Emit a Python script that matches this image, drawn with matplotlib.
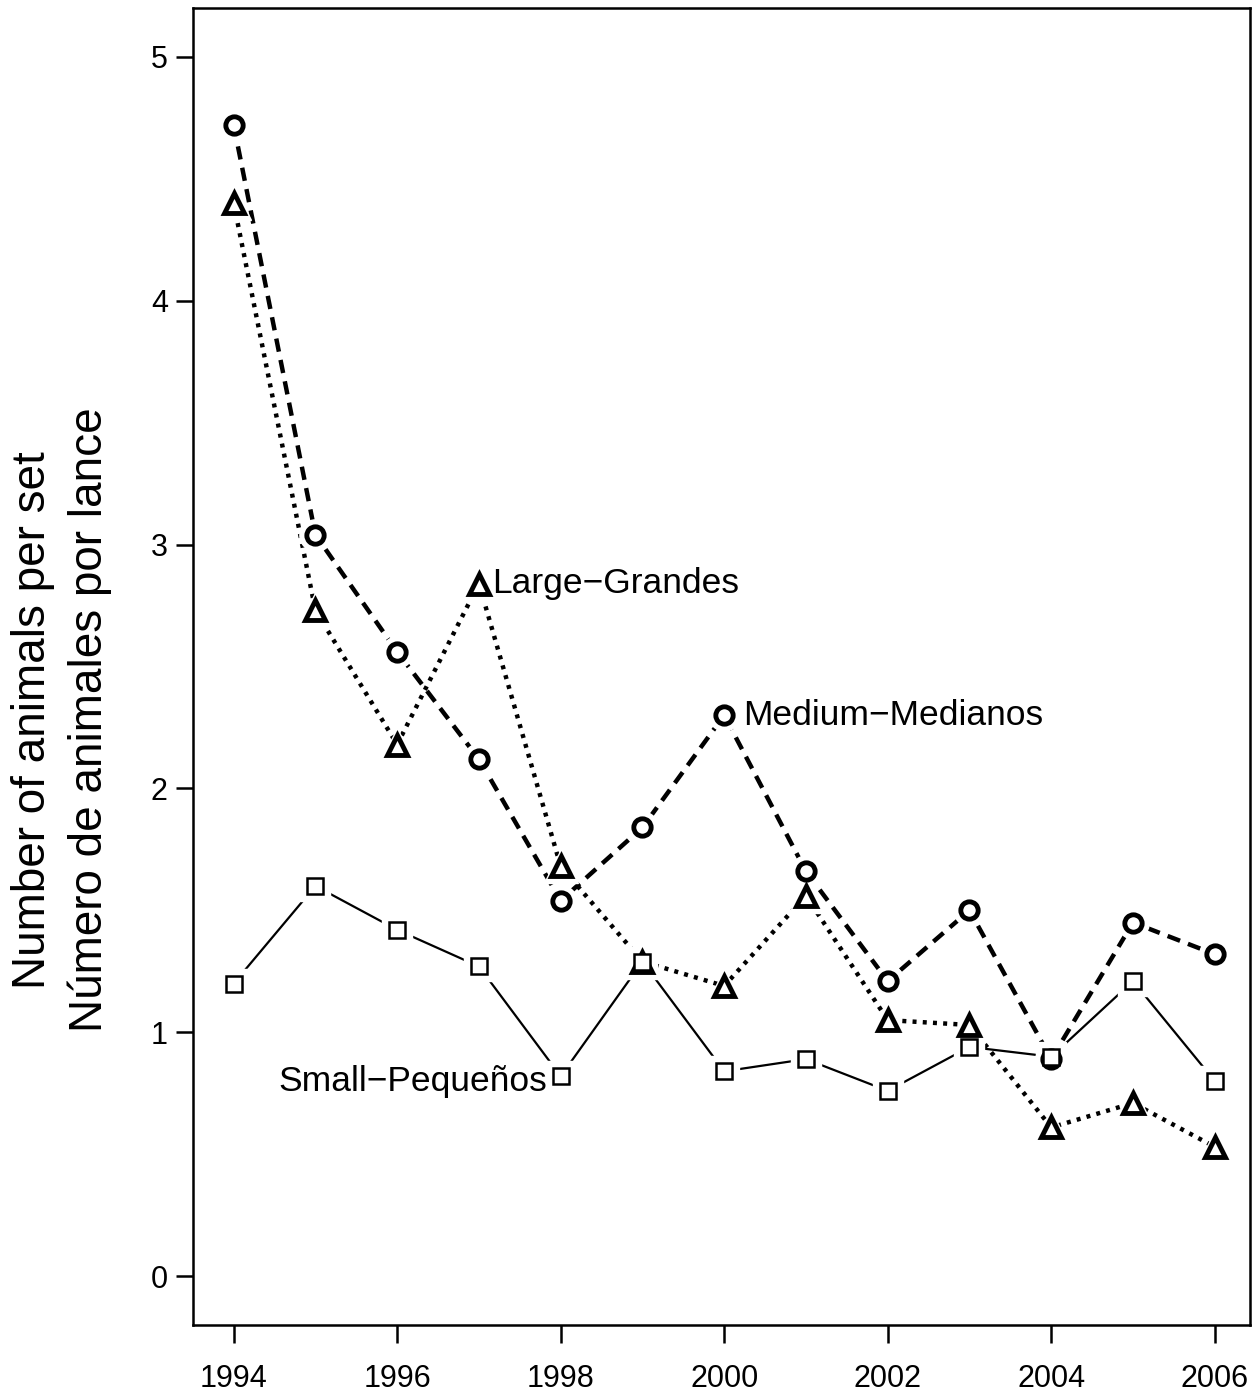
import numpy as np
import matplotlib.pyplot as plt

plt.rcParams['font.family'] = ['Liberation Sans', 'DejaVu Sans']

years = list(range(1994, 2007))
medium = [4.72, 3.04, 2.56, 2.12, 1.54, 1.84, 2.30, 1.66, 1.21, 1.50, 0.89, 1.45, 1.32]
large = [4.40, 2.73, 2.18, 2.84, 1.68, 1.29, 1.19, 1.56, 1.05, 1.03, 0.61, 0.71, 0.53]
small = [1.20, 1.60, 1.42, 1.27, 0.82, 1.29, 0.84, 0.89, 0.76, 0.94, 0.90, 1.21, 0.80]

xticks = [1994, 1996, 1998, 2000, 2002, 2004, 2006]
yticks = [0, 1, 2, 3, 4, 5]

fig = plt.figure(figsize=(12.6, 13.95), dpi=100)
ax = fig.add_axes([0.153, 0.0502, 0.839, 0.9441])


def series(y, lw, marker, ms, mew, dashes=None):
    line, = ax.plot(years, y, color='black', lw=lw, zorder=2)
    if dashes is not None:
        line.set_dashes(dashes)
        line.set_dash_capstyle('butt')
    # white halo so the line stops short of each point
    ax.plot(years, y, ls='none', marker=marker, ms=ms + 10, mfc='white',
            mec='white', zorder=3)
    ax.plot(years, y, ls='none', marker=marker, ms=ms, mfc='white',
            mec='black', mew=mew, zorder=4)


series(medium, 3.2, 'o', 12.5, 3.5, dashes=(3.0, 1.9))
series(large, 3.2, '^', 15, 3.5, dashes=(0.9, 1.4))
series(small, 1.6, 's', 12, 1.8)

ax.text(1997.16, 2.84, 'Large\u2212Grandes', fontsize=25.5, va='center', ha='left')
ax.text(2000.23, 2.30, 'Medium\u2212Medianos', fontsize=25.5, va='center', ha='left')
ax.text(1997.84, 0.80, 'Small\u2212Pequeños', fontsize=25.5, va='center', ha='right')

ax.set_xlim(1993.5, 2006.43)
ax.set_ylim(-0.2, 5.2)
ax.set_xticks(xticks)
ax.set_yticks(yticks)
ax.tick_params(axis='x', length=13, width=1.8, labelsize=22, pad=15)
ax.tick_params(axis='y', length=12, width=1.8, labelsize=22, pad=6)
for s in ax.spines.values():
    s.set_linewidth(1.8)

fig.text(45 / 1260, 0.484, 'Number of animals per set', rotation=90,
         rotation_mode='anchor', fontsize=33, ha='center', va='baseline')
fig.text(102 / 1260, 0.484, 'Número de animales por lance', rotation=90,
         rotation_mode='anchor', fontsize=33, ha='center', va='baseline')

fig.savefig('out.png', dpi=100)
